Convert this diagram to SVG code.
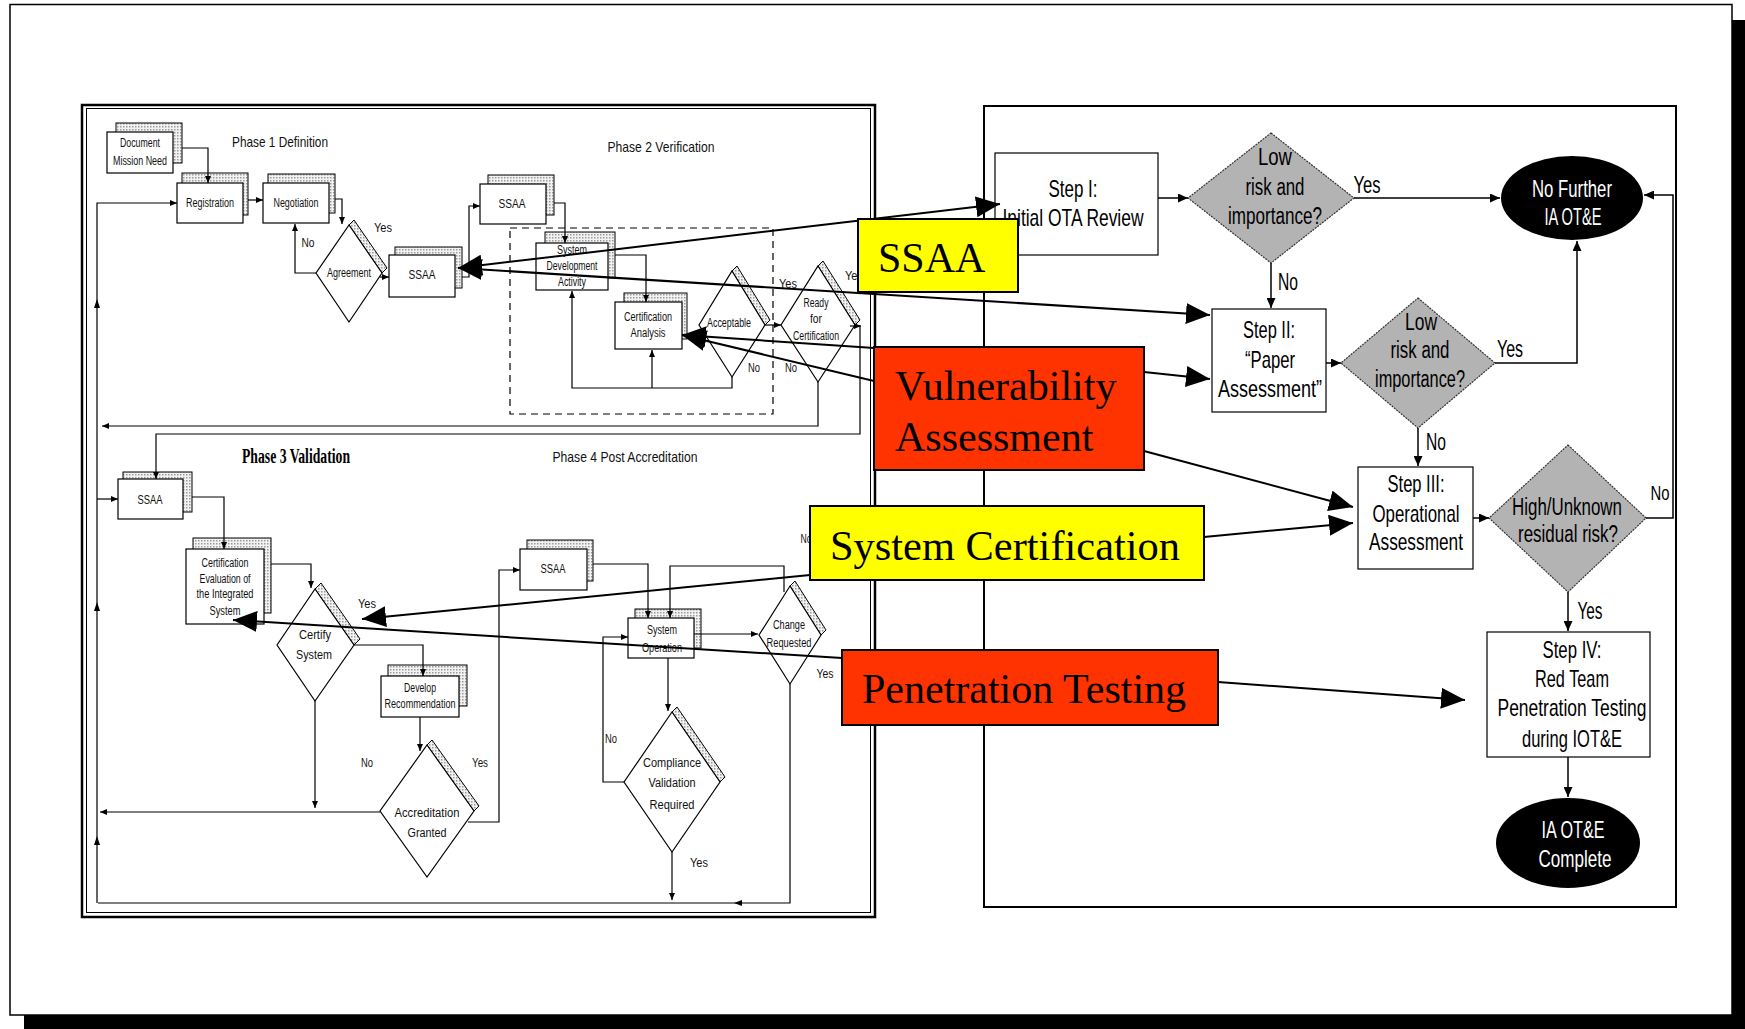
<svg xmlns="http://www.w3.org/2000/svg" width="1745" height="1029" viewBox="0 0 1745 1029">
<defs>
<pattern id="dots" width="3" height="3" patternUnits="userSpaceOnUse"><rect width="3" height="3" fill="#f2f2f2"/><rect width="1.5" height="1.5" fill="#9a9a9a"/></pattern>
<marker id="a" viewBox="0 0 7 6" refX="7" refY="3" markerWidth="7" markerHeight="6" markerUnits="userSpaceOnUse" orient="auto"><path d="M0,0L7,3L0,6z"/></marker>
<marker id="ar" viewBox="0 0 10 9" refX="10" refY="4.5" markerWidth="10" markerHeight="9" markerUnits="userSpaceOnUse" orient="auto"><path d="M0,0L10,4.5L0,9z"/></marker>
<marker id="big" viewBox="0 0 24 21" refX="24" refY="10.5" markerWidth="24" markerHeight="21" markerUnits="userSpaceOnUse" orient="auto-start-reverse"><path d="M0,0L24,10.5L0,21z"/></marker>
</defs>
<style>
.box{fill:#fff;stroke:#000;stroke-width:1.2}
.sh{fill:url(#dots);stroke:#000;stroke-width:1}
.ln{fill:none;stroke:#000;stroke-width:1.2}
.rl{fill:none;stroke:#000;stroke-width:1.5}
.conn{fill:none;stroke:#000;stroke-width:2}
.t{font-family:"Liberation Sans Narrow","Liberation Sans",Arial,sans-serif;font-size:12px;text-anchor:middle;fill:#111}
.ph{font-family:"Liberation Sans Narrow","Liberation Sans",Arial,sans-serif;font-size:15px;text-anchor:middle;fill:#111}
.rt{font-family:"Liberation Sans Narrow","Liberation Sans",Arial,sans-serif;font-size:24px;text-anchor:middle;fill:#000}
.dt{font-family:"Liberation Sans Narrow","Liberation Sans",Arial,sans-serif;font-size:23px;text-anchor:middle;fill:#000}
.wt{font-family:"Liberation Sans Narrow","Liberation Sans",Arial,sans-serif;font-size:24px;text-anchor:middle;fill:#fff}
.gd{fill:#b3b3b3;stroke:#333;stroke-width:1.2;stroke-dasharray:2 1}
.big{font-family:"Liberation Serif","Times New Roman",serif;font-size:42px;fill:#000}
.lab{stroke:#000;stroke-width:2}
</style>
<g id="frame">
<rect x="0" y="0" width="1745" height="1029" fill="#fff"/>
<rect x="1732" y="20" width="13" height="1009" fill="#000"/>
<rect x="24" y="1015" width="1721" height="14" fill="#000"/>
<rect x="10" y="4.5" width="1722" height="1010.5" fill="#fff" stroke="#000" stroke-width="1.5"/>
</g>
<g id="left-panel">
<rect x="82" y="105" width="793" height="812" fill="none" stroke="#000" stroke-width="2.5"/>
<rect x="86.5" y="108.5" width="784" height="804" fill="none" stroke="#000" stroke-width="1"/>
<rect x="510" y="228" width="263" height="186" fill="none" stroke="#000" stroke-width="1.2" stroke-dasharray="7 5"/>
<text class="ph" x="280" y="147" textLength="96" lengthAdjust="spacingAndGlyphs">Phase 1 Definition</text>
<text class="ph" x="661" y="152" textLength="107" lengthAdjust="spacingAndGlyphs">Phase 2 Verification</text>
<text x="296" y="463" font-family="Liberation Serif,serif" font-weight="bold" font-size="20" text-anchor="middle" textLength="108" lengthAdjust="spacingAndGlyphs">Phase 3 Validation</text>
<text class="ph" x="625" y="462" textLength="145" lengthAdjust="spacingAndGlyphs">Phase 4 Post Accreditation</text>
</g>
<g id="right-panel"><rect x="984" y="106" width="692" height="801" fill="none" stroke="#000" stroke-width="2"/></g>

<g id="doc-mission-need"><rect class="sh" x="116" y="123" width="66" height="40"/><rect class="box" x="107" y="132" width="66" height="41"/>
<text class="t" x="140" y="147" textLength="40" lengthAdjust="spacingAndGlyphs">Document</text><text class="t" x="140" y="165" textLength="54" lengthAdjust="spacingAndGlyphs">Mission Need</text></g>
<g id="registration"><rect class="sh" x="182" y="173" width="66" height="42"/><rect class="box" x="177" y="183" width="66" height="40"/>
<text class="t" x="210" y="207" textLength="48" lengthAdjust="spacingAndGlyphs">Registration</text></g>
<g id="negotiation"><rect class="sh" x="268" y="174" width="67" height="39"/><rect class="box" x="263" y="183" width="66" height="40"/>
<text class="t" x="296" y="207" textLength="45" lengthAdjust="spacingAndGlyphs">Negotiation</text></g>
<g id="agreement"><polygon class="sh" points="349,225 354,220 387,268 382,273"/><polygon class="box" points="349,225 382,273 349,322 316,273"/>
<text class="t" x="349" y="277" textLength="44" lengthAdjust="spacingAndGlyphs">Agreement</text></g>
<g id="ssaa-1"><rect class="sh" x="395" y="247" width="67" height="41"/><rect class="box" x="389" y="255" width="66" height="42"/>
<text class="t" x="422" y="279" textLength="27" lengthAdjust="spacingAndGlyphs">SSAA</text></g>
<g id="ssaa-2"><rect class="sh" x="488" y="175" width="66" height="40"/><rect class="box" x="480" y="184" width="66" height="40"/>
<text class="t" x="512" y="208" textLength="27" lengthAdjust="spacingAndGlyphs">SSAA</text></g>
<g id="sys-dev"><rect class="sh" x="545" y="232" width="70" height="46"/><rect class="box" x="536" y="243" width="72" height="47"/>
<text class="t" x="572" y="254" textLength="30" lengthAdjust="spacingAndGlyphs">System</text><text class="t" x="572" y="270" textLength="51" lengthAdjust="spacingAndGlyphs">Development</text><text class="t" x="572" y="286" textLength="28" lengthAdjust="spacingAndGlyphs">Activity</text></g>
<g id="cert-analysis"><rect class="sh" x="624" y="293" width="63" height="46"/><rect class="box" x="615" y="302" width="67" height="47"/>
<text class="t" x="648" y="321" textLength="48" lengthAdjust="spacingAndGlyphs">Certification</text><text class="t" x="648" y="337" textLength="35" lengthAdjust="spacingAndGlyphs">Analysis</text></g>
<g id="acceptable"><polygon class="sh" points="732,271 737,266 770,320 765,325"/><polygon class="box" points="732,271 765,325 732,377 699,325"/>
<text class="t" x="729" y="327" textLength="44" lengthAdjust="spacingAndGlyphs">Acceptable</text></g>
<g id="ready"><polygon class="sh" points="818,266 823,261 860,320 855,325"/><polygon class="box" points="818,266 855,325 818,382 781,325"/>
<text class="t" x="816" y="307" textLength="25" lengthAdjust="spacingAndGlyphs">Ready</text><text class="t" x="816" y="323" textLength="12" lengthAdjust="spacingAndGlyphs">for</text><text class="t" x="816" y="340" textLength="46" lengthAdjust="spacingAndGlyphs">Certification</text></g>
<g id="ssaa-3"><rect class="sh" x="123" y="472" width="69" height="40"/><rect class="box" x="118" y="479" width="65" height="40"/>
<text class="t" x="150" y="504" textLength="25" lengthAdjust="spacingAndGlyphs">SSAA</text></g>
<g id="cert-eval"><rect class="sh" x="193" y="538" width="78" height="75"/><rect class="box" x="186" y="549" width="78" height="75"/>
<text class="t" x="225" y="567" textLength="47" lengthAdjust="spacingAndGlyphs">Certification</text><text class="t" x="225" y="583" textLength="51" lengthAdjust="spacingAndGlyphs">Evaluation of</text><text class="t" x="225" y="598" textLength="57" lengthAdjust="spacingAndGlyphs">the Integrated</text><text class="t" x="225" y="615" textLength="31" lengthAdjust="spacingAndGlyphs">System</text></g>
<g id="certify"><polygon class="sh" points="315,589 321,583 360,639 354,645"/><polygon class="box" points="315,589 354,645 315,701 277,645"/>
<text class="t" x="315" y="639" textLength="32" lengthAdjust="spacingAndGlyphs">Certify</text><text class="t" x="314" y="659" textLength="36" lengthAdjust="spacingAndGlyphs">System</text></g>
<g id="develop"><rect class="sh" x="388" y="665" width="79" height="41"/><rect class="box" x="381" y="676" width="78" height="41"/>
<text class="t" x="420" y="692" textLength="32" lengthAdjust="spacingAndGlyphs">Develop</text><text class="t" x="420" y="708" textLength="71" lengthAdjust="spacingAndGlyphs">Recommendation</text></g>
<g id="accreditation"><polygon class="sh" points="427,745 432,740 479,806 474,811"/><polygon class="box" points="427,745 474,811 427,877 380,811"/>
<text class="t" x="427" y="817" textLength="65" lengthAdjust="spacingAndGlyphs">Accreditation</text><text class="t" x="427" y="837" textLength="39" lengthAdjust="spacingAndGlyphs">Granted</text></g>
<g id="ssaa-4"><rect class="sh" x="527" y="540" width="66" height="41"/><rect class="box" x="520" y="549" width="67" height="41"/>
<text class="t" x="553" y="573" textLength="25" lengthAdjust="spacingAndGlyphs">SSAA</text></g>
<g id="sys-op"><rect class="sh" x="635" y="609" width="66" height="39"/><rect class="box" x="628" y="618" width="66" height="40"/>
<text class="t" x="662" y="634" textLength="30" lengthAdjust="spacingAndGlyphs">System</text><text class="t" x="662" y="652" textLength="40" lengthAdjust="spacingAndGlyphs">Operation</text></g>
<g id="change"><polygon class="sh" points="790,586 795,581 826,630 821,635"/><polygon class="box" points="790,586 821,635 790,684 759,635"/>
<text class="t" x="789" y="629" textLength="32" lengthAdjust="spacingAndGlyphs">Change</text><text class="t" x="789" y="647" textLength="45" lengthAdjust="spacingAndGlyphs">Requested</text></g>
<g id="compliance"><polygon class="sh" points="672,712 677,707 725,777 720,782"/><polygon class="box" points="672,712 720,782 672,852 624,782"/>
<text class="t" x="672" y="767" textLength="58" lengthAdjust="spacingAndGlyphs">Compliance</text><text class="t" x="672" y="787" textLength="47" lengthAdjust="spacingAndGlyphs">Validation</text><text class="t" x="672" y="809" textLength="45" lengthAdjust="spacingAndGlyphs">Required</text></g>

<g id="step1"><rect class="box" x="995" y="153" width="163" height="102" stroke-width="1.5"/>
<text class="rt" x="1073" y="197" textLength="49" lengthAdjust="spacingAndGlyphs">Step I:</text><text class="rt" x="1073" y="226" textLength="141" lengthAdjust="spacingAndGlyphs">Initial OTA Review</text></g>
<g id="decision1"><polygon class="gd" points="1271,133 1354,198 1271,263 1188,198"/>
<text class="dt" x="1275" y="165" textLength="34" lengthAdjust="spacingAndGlyphs">Low</text><text class="dt" x="1275" y="195" textLength="59" lengthAdjust="spacingAndGlyphs">risk and</text><text class="dt" x="1275" y="224" textLength="94" lengthAdjust="spacingAndGlyphs">importance?</text></g>
<g id="no-further"><ellipse cx="1572" cy="198" rx="71" ry="42" fill="#000"/>
<text class="wt" x="1572" y="197" textLength="80" lengthAdjust="spacingAndGlyphs">No Further</text><text class="wt" x="1573" y="225" textLength="57" lengthAdjust="spacingAndGlyphs">IA OT&amp;E</text></g>
<g id="step2"><rect class="box" x="1212" y="309" width="114" height="103" stroke-width="1.5"/>
<text class="rt" x="1269" y="338" textLength="52" lengthAdjust="spacingAndGlyphs">Step II:</text><text class="rt" x="1270" y="368" textLength="50" lengthAdjust="spacingAndGlyphs">“Paper</text><text class="rt" x="1270" y="397" textLength="104" lengthAdjust="spacingAndGlyphs">Assessment”</text></g>
<g id="decision2"><polygon class="gd" points="1418,298 1495,363 1418,428 1341,363"/>
<text class="dt" x="1421" y="330" textLength="32" lengthAdjust="spacingAndGlyphs">Low</text><text class="dt" x="1420" y="358" textLength="59" lengthAdjust="spacingAndGlyphs">risk and</text><text class="dt" x="1420" y="387" textLength="90" lengthAdjust="spacingAndGlyphs">importance?</text></g>
<g id="step3"><rect class="box" x="1358" y="467" width="115" height="102" stroke-width="1.5"/>
<text class="rt" x="1416" y="492" textLength="57" lengthAdjust="spacingAndGlyphs">Step III:</text><text class="rt" x="1416" y="522" textLength="87" lengthAdjust="spacingAndGlyphs">Operational</text><text class="rt" x="1416" y="550" textLength="94" lengthAdjust="spacingAndGlyphs">Assessment</text></g>
<g id="decision3"><polygon class="gd" points="1568,445 1646,518 1568,592 1489,518"/>
<text class="dt" x="1567" y="515" font-size="22" textLength="110" lengthAdjust="spacingAndGlyphs">High/Unknown</text><text class="dt" x="1568" y="542" textLength="100" lengthAdjust="spacingAndGlyphs">residual risk?</text></g>
<g id="step4"><rect class="box" x="1487" y="632" width="163" height="125" stroke-width="1.5"/>
<text class="rt" x="1572" y="658" textLength="59" lengthAdjust="spacingAndGlyphs">Step IV:</text><text class="rt" x="1572" y="687" textLength="74" lengthAdjust="spacingAndGlyphs">Red Team</text><text class="rt" x="1572" y="716" textLength="149" lengthAdjust="spacingAndGlyphs">Penetration Testing</text><text class="rt" x="1572" y="747" textLength="100" lengthAdjust="spacingAndGlyphs">during IOT&amp;E</text></g>
<g id="complete"><ellipse cx="1568" cy="843" rx="72" ry="45" fill="#000"/>
<text class="wt" x="1573" y="838" textLength="63" lengthAdjust="spacingAndGlyphs">IA OT&amp;E</text><text class="wt" x="1575" y="867" textLength="73" lengthAdjust="spacingAndGlyphs">Complete</text></g>

<g id="connectors">
<g class="ln">
<path d="M182,148H208V183" marker-end="url(#a)"/>
<path d="M248,200H263" marker-end="url(#a)"/>
<path d="M335,199H342V224" marker-end="url(#a)"/>
<path d="M316,273H295V224" marker-end="url(#a)"/>
<path d="M380,277H389" marker-end="url(#a)"/>
<path d="M462,277H469V206H480" marker-end="url(#a)"/>
<path d="M554,203H565V243" marker-end="url(#a)"/>
<path d="M615,255H646V302" marker-end="url(#a)"/>
<path d="M732,377V388H572V291" marker-end="url(#a)"/>
<path d="M652,388V350" marker-end="url(#a)"/>
<path d="M765,325H781" marker-end="url(#a)"/>
<path d="M850,326H861" marker-end="url(#a)"/>
<path d="M860,326V434H156V479" marker-end="url(#a)"/>
<path d="M818,382V426H102" marker-end="url(#a)"/>
<path d="M97,903V203H177" marker-end="url(#a)"/>
<path d="M97,499H118" marker-end="url(#a)"/>
<path d="M192,497H224V549" marker-end="url(#a)"/>
<path d="M271,564H311V588" marker-end="url(#a)"/>
<path d="M354,645H423V676" marker-end="url(#a)"/>
<path d="M420,717V751" marker-end="url(#a)"/>
<path d="M315,701V808" marker-end="url(#a)"/>
<path d="M380,812H100" marker-end="url(#a)"/>
<path d="M468,822H499V570H520" marker-end="url(#a)"/>
<path d="M593,564H648V618" marker-end="url(#a)"/>
<path d="M784,592V566H670V618" marker-end="url(#a)"/>
<path d="M694,634H758" marker-end="url(#a)"/>
<path d="M790,684V903H98"/>
<path d="M668,658V711" marker-end="url(#a)"/>
<path d="M624,782H603V637H628" marker-end="url(#a)"/>
<path d="M672,852V900" marker-end="url(#a)"/>
</g>
<polygon points="97,299 94,308 100,308"/>
<polygon points="97,602 94,611 100,611"/>
<polygon points="97,836 94,845 100,845"/>
<polygon points="734,903 742,900 742,906"/>
<g class="rl">
<path d="M1158,198H1188" marker-end="url(#ar)"/>
<path d="M1354,198H1500" marker-end="url(#ar)"/>
<path d="M1271,263V308" marker-end="url(#ar)"/>
<path d="M1326,363H1341" marker-end="url(#ar)"/>
<path d="M1495,363H1577V241" marker-end="url(#ar)"/>
<path d="M1418,428V466" marker-end="url(#ar)"/>
<path d="M1473,518H1489" marker-end="url(#ar)"/>
<path d="M1646,518H1673V195H1644" marker-end="url(#ar)"/>
<path d="M1568,592V631" marker-end="url(#ar)"/>
<path d="M1568,757V797" marker-end="url(#ar)"/>
</g>
<g class="conn">
<path d="M458,268L1000,204" marker-start="url(#big)" marker-end="url(#big)"/>
<path d="M458,268L1210,315" marker-start="url(#big)" marker-end="url(#big)"/>
<path d="M682,335L874,348" marker-start="url(#big)"/>
<path d="M682,335L874,381" marker-start="url(#big)"/>
<path d="M1144,372L1210,379" marker-end="url(#big)"/>
<path d="M1144,451L1353,507" marker-end="url(#big)"/>
<path d="M810,575L362,619" marker-end="url(#big)"/>
<path d="M1204,537L1353,523" marker-end="url(#big)"/>
<path d="M842,658L233,620" marker-end="url(#big)"/>
<path d="M1218,682L1465,700" marker-end="url(#big)"/>
</g>
</g>

<g id="edge-labels" class="t">
<text x="383" y="232" textLength="18" lengthAdjust="spacingAndGlyphs">Yes</text>
<text x="308" y="247" textLength="13" lengthAdjust="spacingAndGlyphs">No</text>
<text x="788" y="288" textLength="18" lengthAdjust="spacingAndGlyphs">Yes</text>
<text x="754" y="372" textLength="12" lengthAdjust="spacingAndGlyphs">No</text>
<text x="791" y="372" textLength="12" lengthAdjust="spacingAndGlyphs">No</text>
<text x="854" y="280" textLength="18" lengthAdjust="spacingAndGlyphs">Yes</text>
<text x="367" y="608" textLength="18" lengthAdjust="spacingAndGlyphs">Yes</text>
<text x="367" y="767" textLength="12" lengthAdjust="spacingAndGlyphs">No</text>
<text x="480" y="767" textLength="16" lengthAdjust="spacingAndGlyphs">Yes</text>
<text x="825" y="678" textLength="17" lengthAdjust="spacingAndGlyphs">Yes</text>
<text x="806" y="543" textLength="11" lengthAdjust="spacingAndGlyphs">No</text>
<text x="611" y="743" textLength="12" lengthAdjust="spacingAndGlyphs">No</text>
<text x="699" y="867" textLength="18" lengthAdjust="spacingAndGlyphs">Yes</text>
</g>
<g id="right-labels" class="dt">
<text x="1367" y="193" textLength="27" lengthAdjust="spacingAndGlyphs">Yes</text>
<text x="1288" y="290" textLength="20" lengthAdjust="spacingAndGlyphs">No</text>
<text x="1510" y="357" textLength="26" lengthAdjust="spacingAndGlyphs">Yes</text>
<text x="1436" y="450" textLength="20" lengthAdjust="spacingAndGlyphs">No</text>
<text x="1660" y="500" font-size="21" textLength="19" lengthAdjust="spacingAndGlyphs">No</text>
<text x="1590" y="619" textLength="25" lengthAdjust="spacingAndGlyphs">Yes</text>
</g>

<g id="label-ssaa"><rect class="lab" x="858" y="219" width="160" height="73" fill="#ffff00"/><text class="big" x="878" y="272">SSAA</text></g>
<g id="label-vuln"><rect class="lab" x="874" y="347" width="270" height="123" fill="#ff3300"/><text class="big" x="895" y="400">Vulnerability</text><text class="big" x="895" y="451">Assessment</text></g>
<g id="label-cert"><rect class="lab" x="810" y="506" width="394" height="74" fill="#ffff00"/><text class="big" x="830" y="560" textLength="350" lengthAdjust="spacingAndGlyphs">System Certification</text></g>
<g id="label-pen"><rect class="lab" x="842" y="650" width="376" height="75" fill="#ff3300"/><text class="big" x="862" y="703">Penetration Testing</text></g>
</svg>
